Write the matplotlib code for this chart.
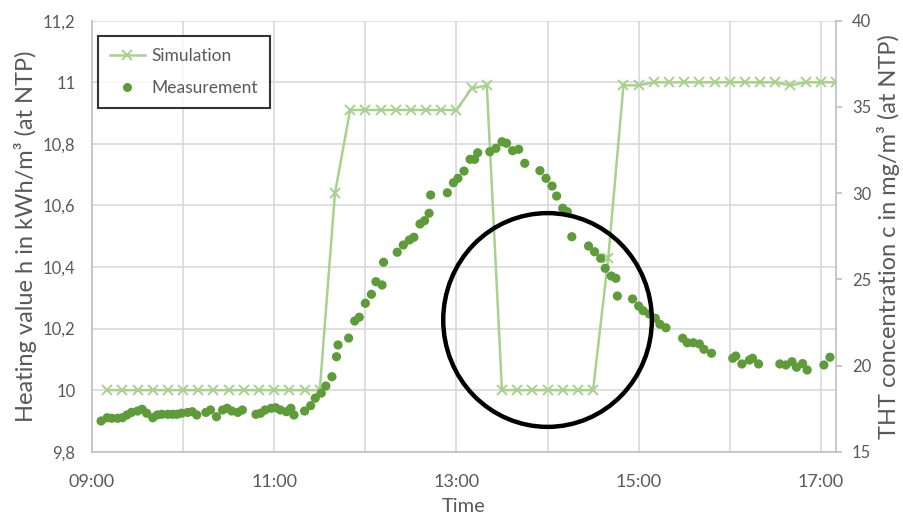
import matplotlib
matplotlib.use("Agg")
import matplotlib.pyplot as plt
from matplotlib.lines import Line2D
from matplotlib.patches import Ellipse
from matplotlib.ticker import FuncFormatter, MultipleLocator, FixedLocator

# simulated heating value (left axis, kWh/m³)
sim_time = ["09:10", "09:20", "09:30", "09:40", "09:50", "10:00", "10:10", "10:20",
            "10:30", "10:40", "10:50", "11:00", "11:10", "11:20", "11:30", "11:40",
            "11:50", "12:00", "12:10", "12:20", "12:30", "12:40", "12:50", "13:00",
            "13:10", "13:20", "13:30", "13:40", "13:50", "14:00", "14:10", "14:20",
            "14:30", "14:40", "14:50", "15:00", "15:10", "15:20", "15:30", "15:40",
            "15:50", "16:00", "16:10", "16:20", "16:30", "16:40", "16:50", "17:00",
            "17:10"]
sim_value = [10.0, 10.0, 10.0, 10.0, 10.0, 10.0, 10.0, 10.0,
             10.0, 10.0, 10.0, 10.0, 10.0, 10.0, 10.0, 10.64,
             10.91, 10.91, 10.91, 10.91, 10.91, 10.91, 10.91, 10.91,
             10.98, 10.99, 10.0, 10.0, 10.0, 10.0, 10.0, 10.0,
             10.0, 10.43, 10.99, 10.99, 11.0, 11.0, 11.0, 11.0,
             11.0, 11.0, 11.0, 11.0, 11.0, 10.99, 11.0, 11.0,
             11.0]

# measured THT concentration (right axis, mg/m³)
meas_time = ["09:06", "09:10", "09:13", "09:17", "09:20", "09:23", "09:26", "09:30",
             "09:33", "09:36", "09:40", "09:43", "09:46", "09:50", "09:53", "09:56",
             "09:59", "10:03", "10:06", "10:09", "10:15", "10:18", "10:22", "10:26",
             "10:29", "10:32", "10:36", "10:39", "10:48", "10:51", "10:54", "10:58",
             "11:01", "11:04", "11:08", "11:11", "11:13", "11:20", "11:24", "11:27",
             "11:31", "11:34", "11:38", "11:41", "11:42", "11:49", "11:53", "11:56",
             "12:00", "12:04", "12:07", "12:11", "12:12", "12:21", "12:25", "12:29",
             "12:32", "12:36", "12:39", "12:42", "12:43", "12:54", "12:58", "13:01",
             "13:05", "13:09", "13:12", "13:14", "13:22", "13:26", "13:30", "13:33",
             "13:37", "13:41", "13:45", "13:55", "13:59", "14:03", "14:06", "14:10",
             "14:13", "14:16", "14:27", "14:31", "14:35", "14:38", "14:42", "14:45",
             "14:46", "14:56", "15:00", "15:03", "15:07", "15:11", "15:14", "15:18",
             "15:29", "15:32", "15:36", "15:40", "15:43", "15:48", "16:02", "16:04",
             "16:08", "16:13", "16:15", "16:19", "16:33", "16:37", "16:41", "16:44",
             "16:48", "16:51", "17:02", "17:06"]
meas_value = [16.78, 16.97, 16.94, 16.94, 16.97, 17.13, 17.28, 17.36,
              17.46, 17.23, 16.97, 17.13, 17.17, 17.17, 17.17, 17.17,
              17.23, 17.28, 17.32, 17.13, 17.28, 17.42, 17.03, 17.42,
              17.52, 17.36, 17.28, 17.42, 17.17, 17.23, 17.42, 17.52,
              17.55, 17.42, 17.32, 17.52, 17.13, 17.36, 17.67, 18.11,
              18.40, 18.81, 19.35, 20.51, 21.19, 21.59, 22.58, 22.80,
              23.61, 24.13, 24.86, 24.67, 25.99, 26.57, 26.99, 27.28,
              27.44, 28.21, 28.40, 28.83, 29.89, 30.02, 30.60, 30.86,
              31.28, 31.96, 31.96, 32.34, 32.40, 32.60, 32.98, 32.89,
              32.46, 32.54, 31.73, 31.30, 30.86, 30.41, 29.83, 29.12,
              28.92, 27.47, 26.93, 26.60, 26.22, 25.64, 25.19, 25.06,
              24.03, 23.86, 23.45, 23.18, 22.99, 22.74, 22.39, 22.19,
              21.58, 21.32, 21.32, 21.25, 20.94, 20.71, 20.42, 20.55,
              20.09, 20.32, 20.42, 20.09, 20.09, 20.03, 20.22, 19.90,
              20.11, 19.74, 20.03, 20.48]

time_ticks = ["09:00", "11:00", "13:00", "15:00", "17:00"]


def to_hours(s):
    h, m = s.split(":")
    return int(h) + int(m) / 60


def fmt_time(x, pos):
    mins = int(round(x * 60))
    return f"{mins // 60:02d}:{mins % 60:02d}"


plt.rcParams["font.family"] = ["Lato", "DejaVu Sans"]
grey_txt = "#595959"
grey_axis = "#bfbfbf"
sim_color = "#a9d18e"
meas_color = "#5e9c3a"

fig = plt.figure(figsize=(9.04, 5.14), dpi=100)
ax = fig.add_axes([0.1018, 0.1212, 0.8230, 0.8385])
ax2 = ax.twinx()

ax.plot([to_hours(t) for t in sim_time], sim_value, color=sim_color, lw=1.8,
        marker="x", ms=7, mew=1.4, zorder=3)
ax2.scatter([to_hours(t) for t in meas_time], meas_value, s=44, color=meas_color,
            edgecolors="none", zorder=3)

ax.set_xlim(9, to_hours("17:10"))
ax.set_ylim(9.8, 11.2)
ax2.set_ylim(15, 40)

ax.xaxis.set_major_locator(FixedLocator([to_hours(t) for t in time_ticks]))
ax.xaxis.set_minor_locator(MultipleLocator(1))
ax.xaxis.set_major_formatter(FuncFormatter(fmt_time))
ax.yaxis.set_major_locator(MultipleLocator(0.2))
ax.yaxis.set_major_formatter(FuncFormatter(lambda v, p: f"{v:.1f}".rstrip("0").rstrip(".").replace(".", ",")))
ax2.yaxis.set_major_locator(MultipleLocator(5))

ax.grid(True, which="both", axis="x", color="#d9d9d9", lw=1.2)
ax.grid(True, which="major", axis="y", color="#d9d9d9", lw=1.2)
ax.set_axisbelow(True)

for a in (ax, ax2):
    for side in ("top", "left", "right", "bottom"):
        a.spines[side].set_color(grey_axis)
        a.spines[side].set_linewidth(1.2)
    a.spines["top"].set_visible(False)
ax.spines["right"].set_visible(False)
ax2.spines["left"].set_visible(False)
ax2.spines["bottom"].set_visible(False)

ax.tick_params(axis="y", length=0, pad=12, labelsize=12, labelcolor=grey_txt)
ax.tick_params(axis="x", which="both", length=0, pad=16, labelsize=13, labelcolor=grey_txt)
ax2.tick_params(axis="y", length=4.5, width=1.2, color=grey_axis, pad=7,
                labelsize=12, labelcolor=grey_txt)

ax.set_xlabel("Time", fontsize=14.5, color=grey_txt, labelpad=6)
ax.set_ylabel("Heating value h in kWh/m³ (at NTP)", fontsize=17, color=grey_txt, labelpad=4)
ax2.set_ylabel("THT concentration c in mg/m³ (at NTP)", fontsize=17, color=grey_txt, labelpad=4)

# highlight circle around the simulated drop
ax2.add_patch(Ellipse((14.0, 22.64), 2.29, 12.4, fill=False, ec="black", lw=3.2, zorder=5))

handles = [
    Line2D([], [], color=sim_color, lw=1.8, marker="x", ms=7, mew=1.4),
    Line2D([], [], color=meas_color, lw=0, marker="o", ms=6.5, mec="none"),
]
leg = ax2.legend(handles, ["Simulation", "Measurement"], loc="upper left",
                 bbox_to_anchor=(0.008, 0.965), borderaxespad=0, fontsize=12.5,
                 frameon=True, fancybox=False, edgecolor="black", labelcolor=grey_txt,
                 handlelength=2.0, handletextpad=0.35, borderpad=0.7, labelspacing=0.9)
leg.get_frame().set_linewidth(1.5)

fig.savefig("out.png", dpi=100)
